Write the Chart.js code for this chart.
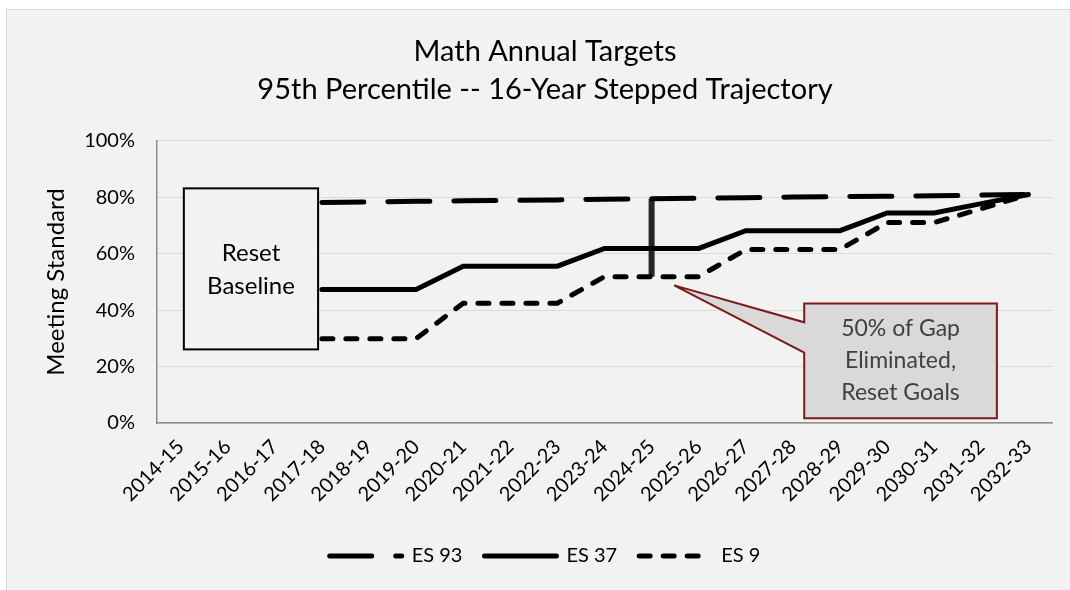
<!DOCTYPE html>
<html>
<head>
<meta charset="utf-8">
<script src="https://cdn.jsdelivr.net/npm/chart.js@4.4.0/dist/chart.umd.min.js"></script>
<style>
  html, body { margin: 0; padding: 0; background: #fff; }
  #chart { display: block; }
</style>
</head>
<body>
<canvas id="chart" width="1070" height="590"></canvas>
<script>
const years = ["2014-15", "2015-16", "2016-17", "2017-18", "2018-19", "2019-20", "2020-21",
  "2021-22", "2022-23", "2023-24", "2024-25", "2025-26", "2026-27", "2027-28", "2028-29",
  "2029-30", "2030-31", "2031-32", "2032-33"];

const es93 = [null, null, null, 78.2, 78.4, 78.6, 78.8, 78.9, 79.1, 79.3, 79.5, 79.7,
  79.9, 80.1, 80.3, 80.4, 80.6, 80.8, 81.0];
const es37 = [null, null, null, 47.3, 47.3, 47.3, 55.6, 55.6, 55.6, 61.9, 61.9, 61.9,
  68.2, 68.2, 68.2, 74.5, 74.5, 77.8, 81.0];
const es9 = [null, null, null, 29.9, 29.9, 29.9, 42.5, 42.5, 42.5, 51.9, 51.9, 51.9,
  61.5, 61.5, 61.5, 71.1, 71.1, 76.0, 81.0];

// vertical marker: ES 9 up to ES 93 at 2024-25
const gapYear = "2024-25";
const gapFrom = 51.9;
const gapTo = 79.5;

const titleLines = ["Math Annual Targets", "95th Percentile -- 16-Year Stepped Trajectory"];
const resetText = ["Reset", "Baseline"];
const calloutText = ["50% of Gap", "Eliminated,", "Reset Goals"];

const FONT = "Lato, 'Open Sans', sans-serif";

// background panel
const panelBg = {
  id: "panelBg",
  beforeDraw(chart) {
    const ctx = chart.ctx;
    ctx.save();
    ctx.fillStyle = "#ffffff";
    ctx.fillRect(0, 0, chart.width, chart.height);
    ctx.fillStyle = "#f2f2f2";
    ctx.fillRect(6, 9, chart.width, chart.height);
    ctx.strokeStyle = "#d9d9d9";
    ctx.lineWidth = 1;
    ctx.beginPath();
    ctx.moveTo(6.5, chart.height);
    ctx.lineTo(6.5, 9.5);
    ctx.lineTo(chart.width, 9.5);
    ctx.stroke();
    ctx.restore();
  }
};

// text boxes placed in data space
const notes = {
  id: "notes",
  afterDatasetsDraw(chart) {
    const ctx = chart.ctx;
    const x = chart.scales.x, y = chart.scales.y;
    ctx.save();

    // Reset Baseline box
    const l = x.getPixelForValue(0.07), r = x.getPixelForValue(2.92);
    const t = y.getPixelForValue(83.2), b = y.getPixelForValue(26.1);
    ctx.fillStyle = "#f2f2f2";
    ctx.fillRect(l, t, r - l, b - t);
    ctx.strokeStyle = "#000";
    ctx.lineWidth = 2;
    ctx.strokeRect(l, t, r - l, b - t);
    ctx.fillStyle = "#000";
    ctx.font = "24px " + FONT;
    ctx.textAlign = "center";
    ctx.textBaseline = "middle";
    const cx = (l + r) / 2, cy = (t + b) / 2;
    ctx.fillText(resetText[0], cx, cy - 16);
    ctx.fillText(resetText[1], cx, cy + 17);

    // callout
    const cl = x.getPixelForValue(13.24), cr = x.getPixelForValue(17.33);
    const ct = y.getPixelForValue(42.4), cb = y.getPixelForValue(1.7);
    const tipX = x.getPixelForValue(10.48), tipY = y.getPixelForValue(48.8);
    const p1 = y.getPixelForValue(35.7), p2 = y.getPixelForValue(25.0);
    ctx.beginPath();
    ctx.moveTo(cl, ct);
    ctx.lineTo(cr, ct);
    ctx.lineTo(cr, cb);
    ctx.lineTo(cl, cb);
    ctx.lineTo(cl, p2);
    ctx.lineTo(tipX, tipY);
    ctx.lineTo(cl, p1);
    ctx.closePath();
    ctx.fillStyle = "#d9d9d9";
    ctx.fill();
    ctx.strokeStyle = "#7a1a1a";
    ctx.lineWidth = 2;
    ctx.stroke();
    ctx.fillStyle = "#404040";
    ctx.font = "23px " + FONT;
    const mx = (cl + cr) / 2, my = (ct + cb) / 2;
    calloutText.forEach((s, i) => ctx.fillText(s, mx, my + (i - 1) * 32));

    ctx.restore();
  }
};

new Chart(document.getElementById("chart"), {
  type: "line",
  data: {
    labels: years,
    datasets: [
      {
        label: "ES 93",
        data: es93,
        borderColor: "#000",
        borderWidth: 5,
        borderDash: [42, 24],
        borderCapStyle: "round",
        pointRadius: 0,
        tension: 0,
        fill: false,
      },
      {
        label: "ES 37",
        data: es37,
        borderColor: "#000",
        borderWidth: 5,
        borderCapStyle: "round",
        pointRadius: 0,
        tension: 0,
        fill: false,
      },
      {
        label: "ES 9",
        data: es9,
        borderColor: "#000",
        borderWidth: 5,
        borderDash: [11, 13],
        borderCapStyle: "round",
        pointRadius: 0,
        tension: 0,
        fill: false,
      },
      {
        label: "gap",
        data: [{ x: gapYear, y: gapFrom }, { x: gapYear, y: gapTo }],
        borderColor: "#262626",
        borderWidth: 6,
        pointRadius: 0,
        fill: false,
      },
    ],
  },
  options: {
    responsive: false,
    animation: false,
    layout: { padding: { left: 38, right: 18, top: 0, bottom: 14 } },
    plugins: {
      title: {
        display: true,
        text: titleLines,
        color: "#000",
        font: { family: FONT, size: 29, weight: "normal", lineHeight: 1.31 },
        padding: { top: 33, bottom: 32 },
      },
      legend: {
        position: "bottom",
        labels: {
          usePointStyle: true,
          pointStyle: "line",
          pointStyleWidth: 72,
          color: "#000",
          font: { family: FONT, size: 20 },
          padding: 22,
          generateLabels(chart) {
            const items = Chart.defaults.plugins.legend.labels.generateLabels(chart);
            items.forEach((it) => {
              const ds = chart.data.datasets[it.datasetIndex];
              it.lineDash = ds.borderDash || [];
              it.lineCap = "round";
              it.lineWidth = 5;
            });
            return items.filter((it) => it.text !== "gap");
          },
        },
      },
      tooltip: { enabled: false },
    },
    scales: {
      x: {
        offset: true,
        grid: { display: false, drawTicks: false },
        border: { display: true, color: "#8c8c8c", width: 1.5 },
        ticks: {
          autoSkip: false,
          minRotation: 45,
          maxRotation: 45,
          padding: 12,
          color: "#000",
          font: { family: FONT, size: 20 },
        },
        afterFit(scale) { scale.height = 101; },
      },
      y: {
        min: 0,
        max: 100,
        ticks: {
          stepSize: 20,
          padding: 22,
          color: "#000",
          font: { family: FONT, size: 20 },
          callback: (v) => v + "%",
        },
        grid: { color: "#d9d9d9", lineWidth: 1, drawTicks: false },
        border: { display: true, color: "#8c8c8c", width: 1.5 },
        title: {
          display: true,
          text: "Meeting Standard",
          color: "#000",
          font: { family: FONT, size: 24 },
          padding: { top: 4, bottom: 0 },
        },
        afterFit(scale) { scale.width = 119; },
      },
    },
  },
  plugins: [panelBg, notes],
});
</script>
</body>
</html>
